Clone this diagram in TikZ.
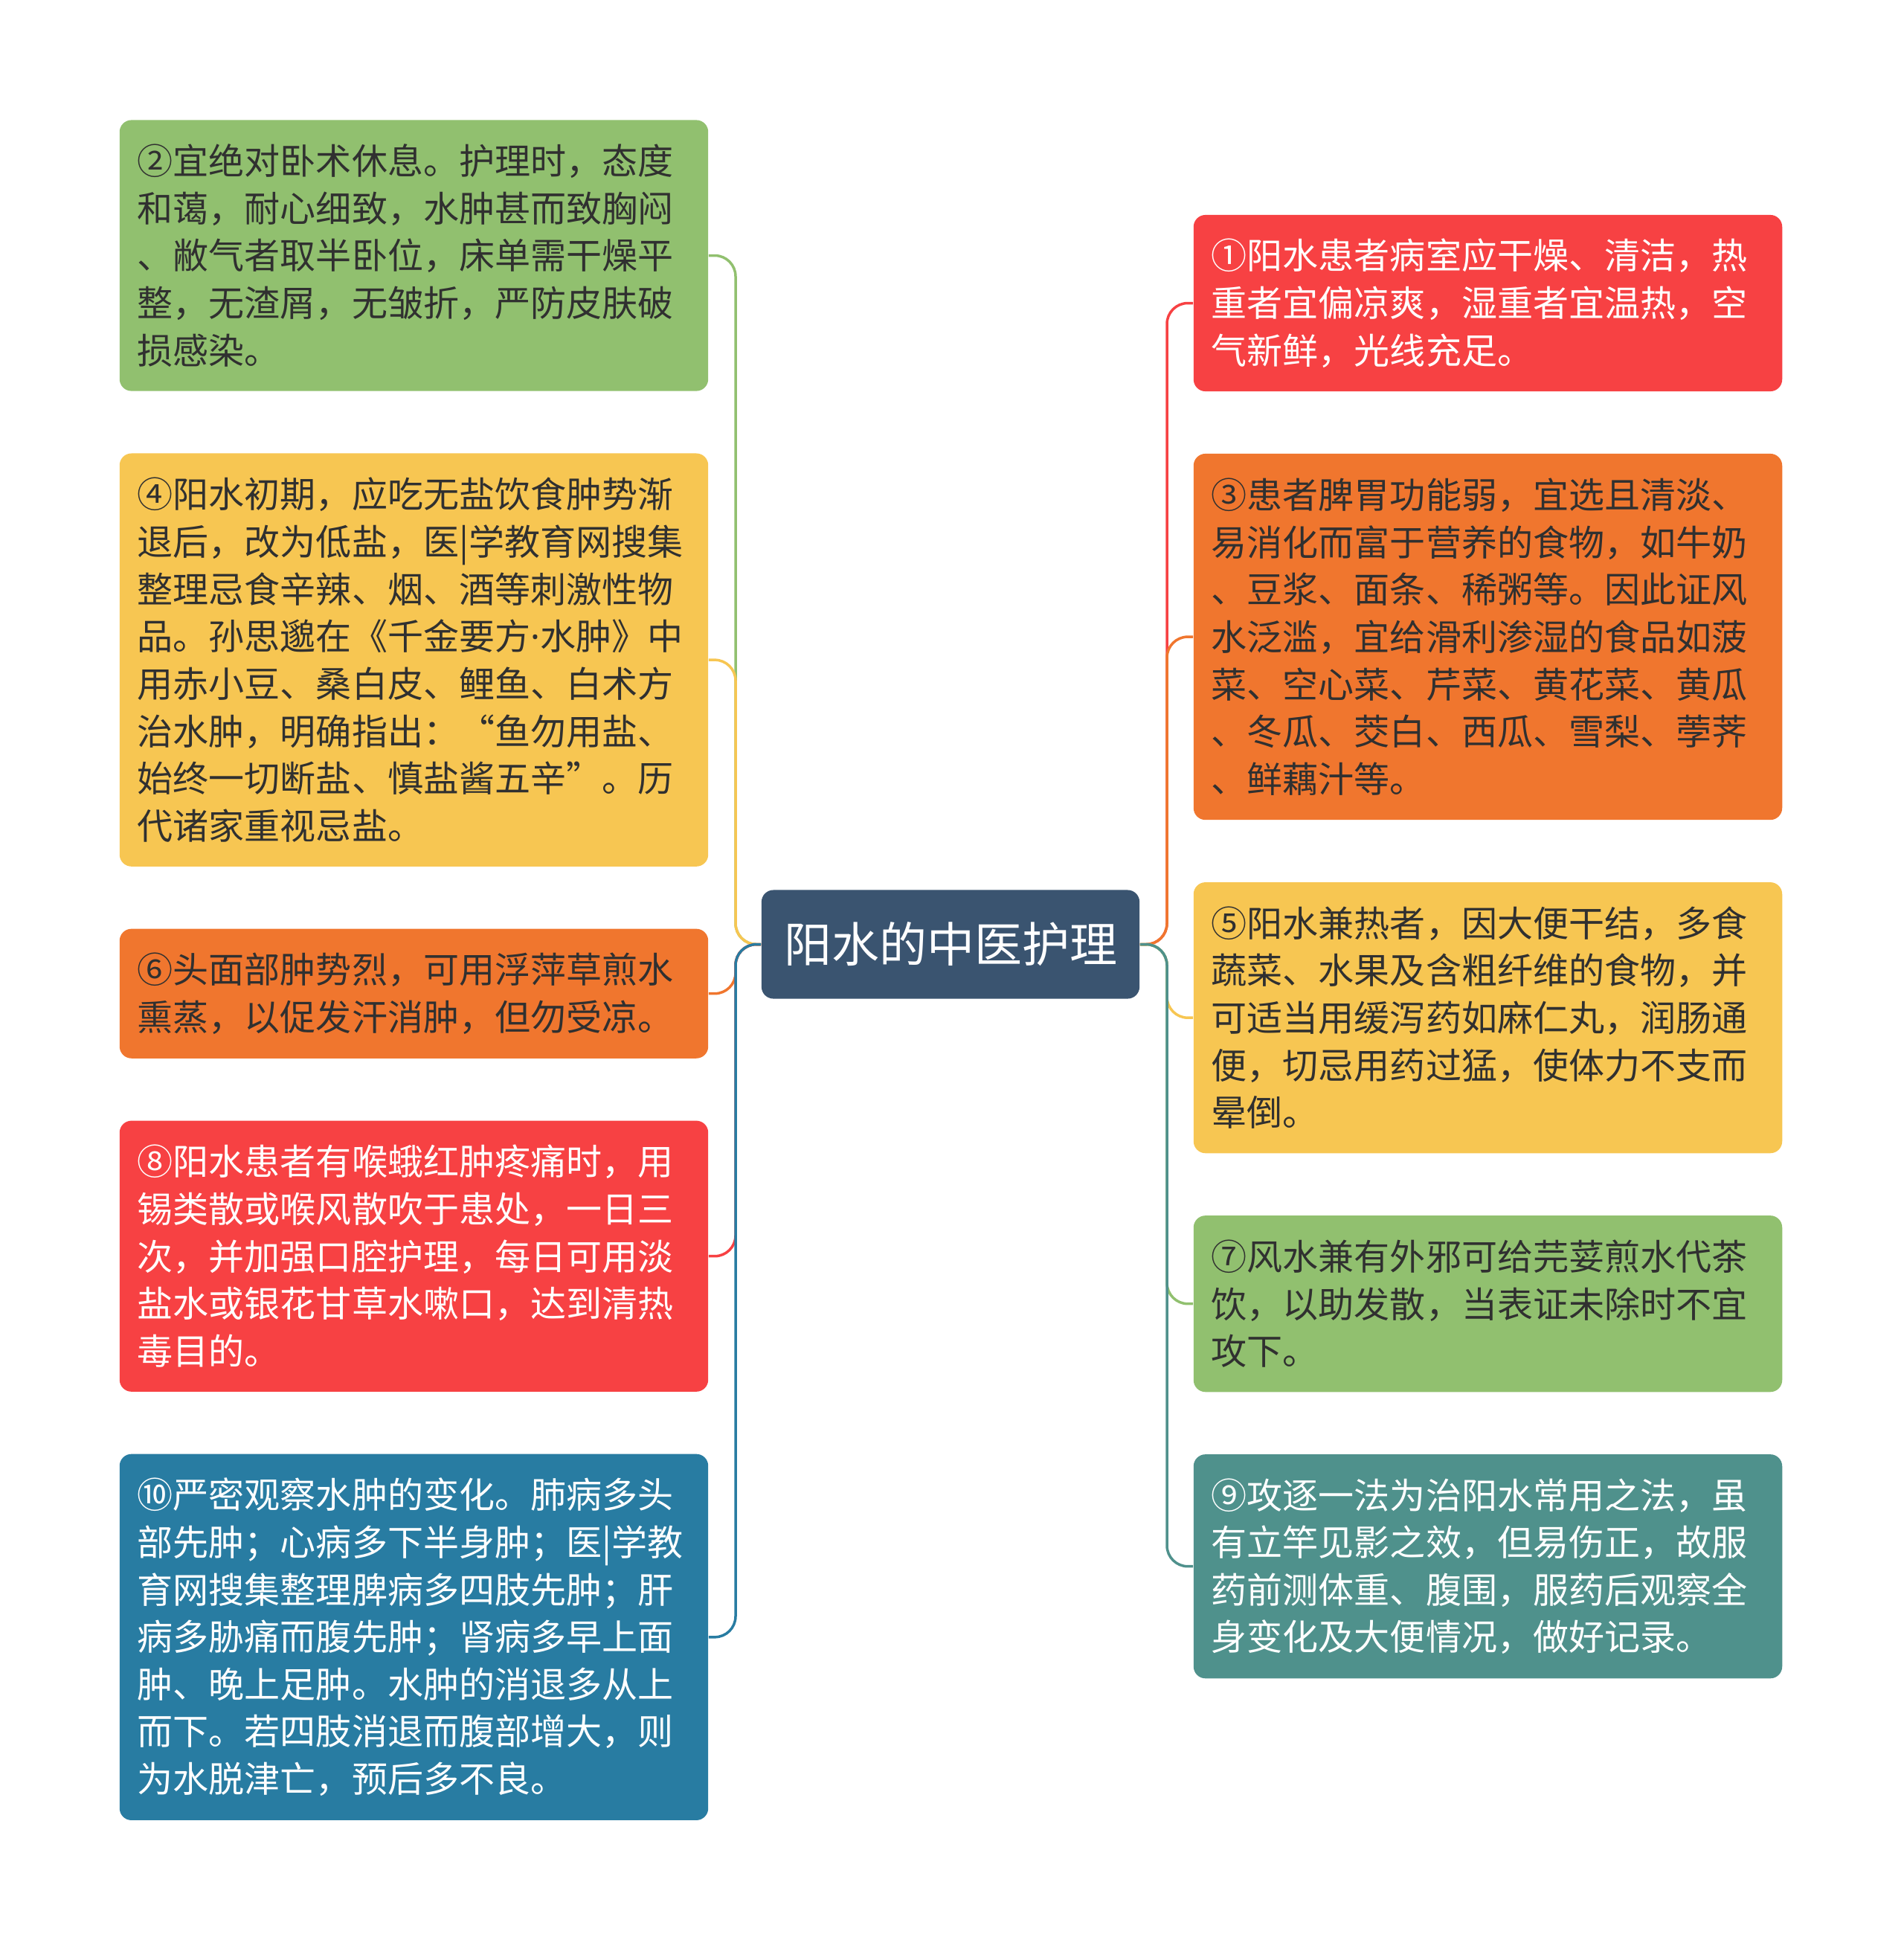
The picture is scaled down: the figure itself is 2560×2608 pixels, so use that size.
\documentclass[tikz,border=0pt]{standalone}
\usepackage{fontspec}
\setmainfont{Noto Sans CJK SC}
\newfontfamily\latino{Noto Sans}
\usetikzlibrary{positioning}
\definecolor{verde}{HTML}{91C06F}
\definecolor{amarelo}{HTML}{F7C652}
\definecolor{laranja}{HTML}{F0762E}
\definecolor{vermelho}{HTML}{F74143}
\definecolor{azul}{HTML}{287CA2}
\definecolor{petroleo}{HTML}{4F918C}
\definecolor{centro}{HTML}{3A5470}
\definecolor{texto}{HTML}{303030}
\tikzstyle{caixa} = [rectangle, rounded corners=0.16cm, align=left, text width=7.43cm, inner xsep=0.24cm, inner ysep=0cm, font=\fontsize{13.66pt}{18.1pt}\selectfont]
\tikzstyle{claro} = [caixa, text=texto]
\tikzstyle{escuro} = [caixa, text=white]
\tikzstyle{tema} = [rectangle, rounded corners=0.16cm, fill=centro, text=white, minimum width=5.08cm, minimum height=1.46cm, font=\fontsize{18.2pt}{22pt}\selectfont]
\tikzstyle{connector} = [draw, line width=0.035cm, rounded corners=0.28cm]

\begin{document}
\begin{tikzpicture}[x=0.01cm, y=-0.01cm] % 1 unidade = 1 pixel da imagem

\useasboundingbox (0,0) rectangle (2560,2608);

%---------------------------------------------
%Tema central
%---------------------------------------------
\node [tema] at (1278,1269.5) (tema) {阳水的中医护理};

%---------------------------------------------
%Coluna da esquerda
%---------------------------------------------
\node [claro, fill=verde, minimum height=3.64cm] at (556.5,343.5) (n2) {②宜绝对卧术休息。护理时，态度\\和蔼，耐心细致，水肿甚而致胸闷\\、敝气者取半卧位，床单需干燥平\\整，无渣屑，无皱折，严防皮肤破\\损感染。};

\node [claro, fill=amarelo, minimum height=5.55cm, below=0.824cm of n2] (n4) {④阳水初期，应吃无盐饮食肿势渐\\退后，改为低盐，医|学教育网搜集\\整理忌食辛辣、烟、酒等刺激性物\\品。孙思邈在《千金要方{\latino ·}水肿》中\\用赤小豆、桑白皮、鲤鱼、白术方\\治水肿，明确指出：“鱼勿用盐、\\始终一切断盐、慎盐酱五辛”。历\\代诸家重视忌盐。};

\node [claro, fill=laranja, minimum height=1.74cm, below=0.824cm of n4] (n6) {⑥头面部肿势烈，可用浮萍草煎水\\熏蒸，以促发汗消肿，但勿受凉。};

\node [escuro, fill=vermelho, minimum height=3.64cm, below=0.824cm of n6] (n8) {⑧阳水患者有喉蛾红肿疼痛时，用\\锡类散或喉风散吹于患处，一日三\\次，并加强口腔护理，每日可用淡\\盐水或银花甘草水嗽口，达到清热\\毒目的。};

\node [escuro, fill=azul, minimum height=4.92cm, below=0.824cm of n8] (n10) {⑩严密观察水肿的变化。肺病多头\\部先肿；心病多下半身肿；医|学教\\育网搜集整理脾病多四肢先肿；肝\\病多胁痛而腹先肿；肾病多早上面\\肿、晚上足肿。水肿的消退多从上\\而下。若四肢消退而腹部增大，则\\为水脱津亡，预后多不良。};

%---------------------------------------------
%Coluna da direita
%---------------------------------------------
\node [escuro, fill=vermelho, minimum height=2.37cm] at (2000.5,407.5) (n1) {①阳水患者病室应干燥、清洁，热\\重者宜偏凉爽，湿重者宜温热，空\\气新鲜，光线充足。};

\node [claro, fill=laranja, minimum height=4.92cm, below=0.824cm of n1] (n3) {③患者脾胃功能弱，宜选且清淡、\\易消化而富于营养的食物，如牛奶\\、豆浆、面条、稀粥等。因此证风\\水泛滥，宜给滑利渗湿的食品如菠\\菜、空心菜、芹菜、黄花菜、黄瓜\\、冬瓜、茭白、西瓜、雪梨、荸荠\\、鲜藕汁等。};

\node [claro, fill=amarelo, minimum height=3.64cm, below=0.824cm of n3] (n5) {⑤阳水兼热者，因大便干结，多食\\蔬菜、水果及含粗纤维的食物，并\\可适当用缓泻药如麻仁丸，润肠通\\便，切忌用药过猛，使体力不支而\\晕倒。};

\node [claro, fill=verde, minimum height=2.37cm, below=0.824cm of n5] (n7) {⑦风水兼有外邪可给芫荽煎水代茶\\饮，以助发散，当表证未除时不宜\\攻下。};

\node [escuro, fill=petroleo, minimum height=3.01cm, below=0.824cm of n7] (n9) {⑨攻逐一法为治阳水常用之法，虽\\有立竿见影之效，但易伤正，故服\\药前测体重、腹围，服药后观察全\\身变化及大便情况，做好记录。};

%---------------------------------------------
%Ligacoes
%---------------------------------------------
\coordinate (troncoE) at (989,1269.5);
\coordinate (troncoD) at (1569,1269.5);

\path [connector, draw=verde] (tema.west) -- (troncoE) |- (n2.east);
\path [connector, draw=amarelo] (tema.west) -- (troncoE) |- (n4.east);
\path [connector, draw=laranja] (tema.west) -- (troncoE) |- (n6.east);
\path [connector, draw=vermelho] (tema.west) -- (troncoE) |- (n8.east);
\path [connector, draw=azul] (tema.west) -- (troncoE) |- (n10.east);

\path [connector, draw=vermelho] (tema.east) -- (troncoD) |- (n1.west);
\path [connector, draw=laranja] (tema.east) -- (troncoD) |- (n3.west);
\path [connector, draw=amarelo] (tema.east) -- (troncoD) |- (n5.west);
\path [connector, draw=verde] (tema.east) -- (troncoD) |- (n7.west);
\path [connector, draw=petroleo] (tema.east) -- (troncoD) |- (n9.west);

\end{tikzpicture}
\end{document}
